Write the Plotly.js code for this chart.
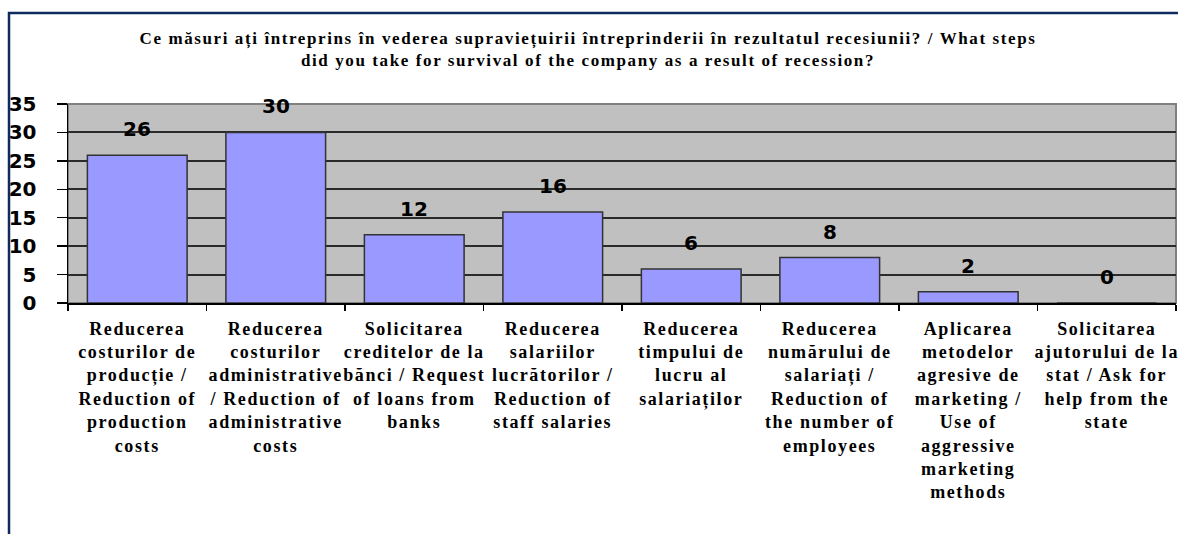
<!DOCTYPE html>
<html>
<head>
<meta charset="utf-8">
<script src="https://cdn.plot.ly/plotly-3.0.1.min.js"></script>
<style>
	html, body {margin: 0; padding: 0; background: #fff;}
	#chart {width: 1178px; height: 534px;}
	/* the original Excel rendering spaces its serif letters out a little */
	#chart .gtitle, #chart .xtick text {letter-spacing: 1.6px;}
</style>
</head>
<body>
<div id="chart"></div>
<script>
// categories (Romanian / English), wrapped as in the original
var categories = [
	'Reducerea<br>costurilor de<br>producție /<br>Reduction of<br>production<br>costs',
	'Reducerea<br>costurilor<br>administrative<br>/ Reduction of<br>administrative<br>costs',
	'Solicitarea<br>creditelor de la<br>bănci / Request<br>of loans from<br>banks',
	'Reducerea<br>salariilor<br>lucrătorilor /<br>Reduction of<br>staff salaries',
	'Reducerea<br>timpului de<br>lucru al<br>salariaților',
	'Reducerea<br>numărului de<br>salariați /<br>Reduction of<br>the number of<br>employees',
	'Aplicarea<br>metodelor<br>agresive de<br>marketing /<br>Use of<br>aggressive<br>marketing<br>methods',
	'Solicitarea<br>ajutorului de la<br>stat / Ask for<br>help from the<br>state'
];
var answers = [26, 30, 12, 16, 6, 8, 2, 0];
var yTicks = [0, 5, 10, 15, 20, 25, 30, 35];

var titleText = 'Ce măsuri ați întreprins în vederea supraviețuirii întreprinderii în rezultatul recesiunii? / What steps<br>did you take for survival of the company as a result of recession?';

var bars = {
	type: 'bar',
	x: categories,
	y: answers,
	marker: {color: '#9999FF', line: {color: '#333333', width: 1.5}},
	width: 0.72,
	hoverinfo: 'skip'
};

// data labels above every bar
var labels = answers.map(function(v, i) {
	return {
		x: categories[i],
		y: v,
		xref: 'x',
		yref: 'y',
		text: String(v),
		showarrow: false,
		yanchor: 'bottom',
		yshift: 12,
		font: {family: 'DejaVu Sans', size: 20, weight: 'bold', color: '#000'}
	};
});

var W = 1178, H = 534;
var m = {l: 68, r: 2, t: 104, b: 231};
var pw = W - m.l - m.r, ph = H - m.t - m.b;

var layout = {
	width: W,
	height: H,
	margin: m,
	paper_bgcolor: '#ffffff',
	plot_bgcolor: '#C0C0C0',
	showlegend: false,
	bargap: 0.28,
	title: {
		text: titleText,
		xref: 'container',
		x: 588 / W,
		xanchor: 'center',
		yref: 'container',
		y: 1 - 44 / H,
		yanchor: 'top',
		font: {family: 'Liberation Serif', size: 17, weight: 'bold', color: '#000'}
	},
	xaxis: {
		type: 'category',
		showline: true,
		linecolor: '#000',
		linewidth: 2,
		ticks: 'outside',
		tickson: 'boundaries',
		ticklen: 6,
		tickwidth: 1.5,
		tickcolor: '#000',
		showgrid: false,
		ticklabelstandoff: 8,
		tickfont: {family: 'Liberation Serif', size: 18, weight: 'bold', color: '#000'}
	},
	yaxis: {
		range: [0, 35],
		tickvals: yTicks,
		showline: true,
		linecolor: '#000',
		linewidth: 1.5,
		ticks: 'outside',
		ticklen: 10,
		tickwidth: 1.5,
		tickcolor: '#000',
		showgrid: true,
		gridcolor: '#2a2a2a',
		gridwidth: 2,
		zeroline: false,
		ticklabelstandoff: 16,
		tickfont: {family: 'DejaVu Sans', size: 20, weight: 'bold', color: '#000'}
	},
	annotations: labels,
	shapes: [
		// plot area border (grey right edge)
		{type: 'rect', xref: 'paper', yref: 'paper', x0: 0, x1: 1, y0: 0, y1: 1,
			line: {color: '#808080', width: 2}, layer: 'below'},
		// outer chart frame, left and top edges
		{type: 'path', xref: 'paper', yref: 'paper',
			path: 'M ' + ((9 - m.l) / pw) + ',' + (-(H - m.b) / ph) +
				' L ' + ((9 - m.l) / pw) + ',' + (1 + (m.t - 13) / ph) +
				' L ' + (1 + (m.r + 10) / pw) + ',' + (1 + (m.t - 13) / ph),
			line: {color: '#0F2A5F', width: 2.5}}
	]
};

Plotly.newPlot('chart', [bars], layout, {displayModeBar: false, staticPlot: true});
</script>
</body>
</html>
